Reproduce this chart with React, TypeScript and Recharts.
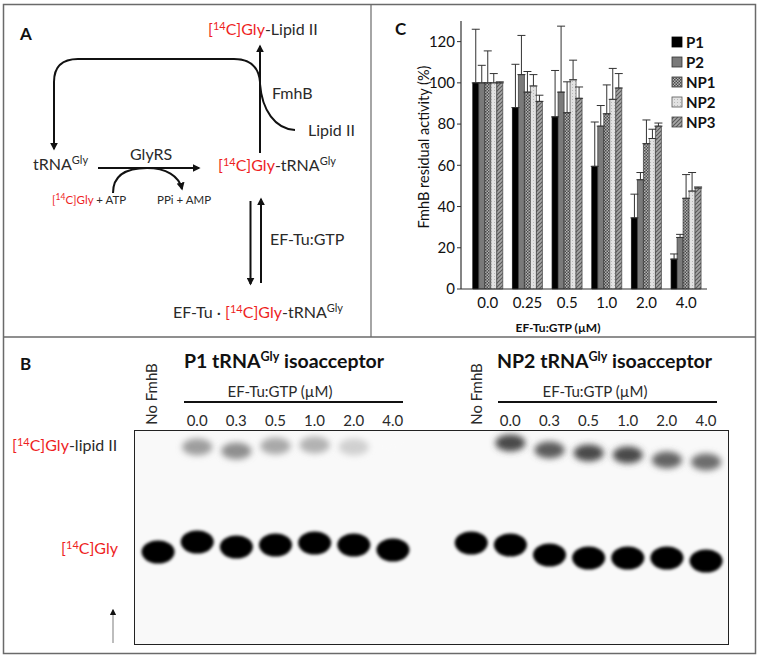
import React from "react";
import {
  Bar,
  BarChart,
  ErrorBar,
  Scatter,
  ScatterChart,
  XAxis,
  YAxis,
} from "recharts";

// panel C: FmhB residual activity (%) vs EF-Tu:GTP (µM)
const doses = ["0.0", "0.25", "0.5", "1.0", "2.0", "4.0"];
const yTicks = [0, 20, 40, 60, 80, 100, 120];
const p1 = [100, 88, 83.5, 59.5, 34.5, 14.5];
const p1Err = [26, 21, 22.5, 21.5, 11.5, 2.5];
const p2 = [100, 104, 95.5, 79, 53, 25];
const p2Err = [8.5, 19, 32, 10, 3.5, 1.5];
const np1 = [100, 95.5, 85.5, 85, 70.5, 44];
const np1Err = [15.5, 10, 15, 14, 11.5, 11.5];
const np2 = [100, 98.5, 101.5, 92, 73, 47.5];
const np2Err = [4.5, 5.5, 9.5, 15, 4.5, 9];
const np3 = [100, 91, 92.5, 97.5, 79, 49];
const np3Err = [0.5, 3, 5.5, 7, 1.5, 0.5];

// panel B: gel lanes (lane slot, migration from well, band darkness 0..1)
const laneLabels = ["0.0", "0.3", "0.5", "1.0", "2.0", "4.0"];
const lipidLanes = [1, 2, 3, 4, 5, 6, 9, 10, 11, 12, 13, 14];
const lipidDist = [16, 20, 15, 14, 16, 15, 12, 19, 22, 24, 29, 31];
const lipidDark = [0.45, 0.52, 0.4, 0.36, 0.22, 0.03, 0.85, 0.76, 0.85, 0.84, 0.72, 0.68];
const glyLanes = [0, 1, 2, 3, 4, 5, 6, 8, 9, 10, 11, 12, 13, 14];
const glyDist = [121, 111, 116, 114, 112, 114, 119, 112, 114, 124, 127, 127, 127, 130];

const series = [
  { key: "P1", values: p1, err: p1Err, fill: "#000", stroke: "#000" },
  { key: "P2", values: p2, err: p2Err, fill: "#7a7a7a", stroke: "#333" },
  { key: "NP1", values: np1, err: np1Err, fill: "url(#patNP1)", stroke: "#333" },
  { key: "NP2", values: np2, err: np2Err, fill: "url(#patNP2)", stroke: "#555" },
  { key: "NP3", values: np3, err: np3Err, fill: "url(#patNP3)", stroke: "#444" },
];

const chartData = doses.map((dose, i) => {
  const row: Record<string, unknown> = { dose };
  series.forEach((s) => {
    row[s.key] = s.values[i];
    row[s.key + "e"] = [0, s.err[i]];
  });
  return row;
});

const lipidData = lipidLanes.map((lane, i) => ({ lane, dist: lipidDist[i], dark: lipidDark[i] }));
const glyData = glyLanes.map((lane, i) => ({ lane, dist: glyDist[i] }));

const FONT = "Lato, 'Open Sans', sans-serif";
const RED = "#ee1f1f";
const INK = "#2a2a2a";

function C14({ dy = 5, size = 11 }: { dy?: number; size?: number }) {
  return (
    <>
      <tspan fill={RED}>[</tspan>
      <tspan fill={RED} dy={-dy} fontSize={size}>14</tspan>
      <tspan fill={RED} dy={dy}>C]Gly</tspan>
    </>
  );
}

function Gly({ dy = 6 }: { dy?: number }) {
  return (
    <>
      <tspan dy={-dy} fontSize={11}>Gly</tspan>
      <tspan dy={dy}> </tspan>
    </>
  );
}

function LegendBox() {
  return (
    <div style={{ position: "absolute", left: 291, top: 32, fontFamily: FONT, fontWeight: 700, fontSize: 15, color: "#111" }}>
      {series.map((s) => (
        <div key={s.key} style={{ display: "flex", alignItems: "center", height: 20 }}>
          <svg width={13} height={12} style={{ marginRight: 2 }}>
            <rect x={1} y={1} width={10} height={10} fill={s.fill} stroke={s.stroke} strokeWidth={0.8} />
          </svg>
          <span>{s.key}</span>
        </div>
      ))}
    </div>
  );
}

function LipidBand(props: any) {
  const { cx, cy, payload } = props;
  const g = Math.round(255 - 215 * payload.dark);
  const col = `rgb(${g},${g},${g})`;
  return (
    <g filter="url(#blurSoft)">
      <ellipse cx={cx} cy={cy} rx={15} ry={8.5} fill={col} />
    </g>
  );
}

function GlyBand(props: any) {
  const { cx, cy } = props;
  return (
    <g filter="url(#blurHard)">
      <ellipse cx={cx} cy={cy} rx={16.5} ry={11.5} fill="#050505" />
    </g>
  );
}

function ResidualChart() {
  return (
    <BarChart
      width={380}
      height={336}
      data={chartData}
      margin={{ top: 21, right: 53, bottom: 17, left: 31 }}
      barCategoryGap="12%"
      barGap={0}
    >
      <defs>
        <pattern id="patNP1" width="3" height="3" patternUnits="userSpaceOnUse">
          <rect width="3" height="3" fill="#b4b4b4" />
          <rect width="1.5" height="1.5" fill="#4a4a4a" />
          <rect x="1.5" y="1.5" width="1.5" height="1.5" fill="#4a4a4a" />
        </pattern>
        <pattern id="patNP2" width="3" height="3" patternUnits="userSpaceOnUse">
          <rect width="3" height="3" fill="#e2e2e2" />
          <rect width="1" height="1" fill="#b8b8b8" />
        </pattern>
        <pattern id="patNP3" width="4" height="4" patternUnits="userSpaceOnUse">
          <rect width="4" height="4" fill="#a8a8a8" />
          <path d="M0,4 L4,0 M-1,1 L1,-1 M3,5 L5,3" stroke="#5a5a5a" strokeWidth="1.2" />
        </pattern>
      </defs>
      <XAxis
        dataKey="dose"
        tick={{ fontSize: 15, fill: "#111", fontFamily: FONT }}
        tickLine={false}
        axisLine={{ stroke: "#333", strokeWidth: 1.2 }}
        padding={{ left: 7, right: 1 }}
        height={30}
        interval={0}
        label={{
          content: () => (
            <text x={178} y={332} textAnchor="middle" fontFamily={FONT} fontWeight={700} fontSize={12} fill="#111">
              EF-Tu:GTP (µM)
            </text>
          ),
        }}
      />
      <YAxis
        domain={[0, 130]}
        ticks={yTicks}
        width={50}
        tick={{ fontSize: 15, fill: "#111", fontFamily: FONT }}
        tickSize={4}
        tickLine={{ stroke: "#333" }}
        axisLine={{ stroke: "#333", strokeWidth: 1.2 }}
        label={{
          content: () => (
            <text
              x={43}
              y={147}
              transform="rotate(-90 43 147)"
              textAnchor="middle"
              dominantBaseline="central"
              fontFamily={FONT}
              fontSize={14.5}
              fill="#111"
            >
              FmhB residual activity (%)
            </text>
          ),
        }}
      />
      {series.map((s) => (
        <Bar
          key={s.key}
          dataKey={s.key}
          name={s.key}
          fill={s.fill}
          stroke={s.stroke}
          strokeWidth={0.7}
          isAnimationActive={false}
        >
          <ErrorBar dataKey={s.key + "e"} width={4} stroke="#333" strokeWidth={1} direction="y" />
        </Bar>
      ))}
    </BarChart>
  );
}

function GelChart() {
  return (
    <ScatterChart width={593} height={213} margin={{ top: 0, right: 0, bottom: 0, left: 0 }}>
      <defs>
        <filter id="blurSoft" x="-50%" y="-80%" width="200%" height="260%">
          <feGaussianBlur stdDeviation="3" />
        </filter>
        <filter id="blurHard" x="-30%" y="-50%" width="160%" height="200%">
          <feGaussianBlur stdDeviation="1.6" />
        </filter>
      </defs>
      <XAxis type="number" dataKey="lane" domain={[-0.59, 14.56]} hide allowDataOverflow />
      <YAxis type="number" dataKey="dist" domain={[0, 213]} reversed hide allowDataOverflow />
      <Scatter data={lipidData} shape={LipidBand} isAnimationActive={false} />
      <Scatter data={glyData} shape={GlyBand} isAnimationActive={false} />
    </ScatterChart>
  );
}

function laneX(slot: number) {
  // lane centre in page px, only for lane labels above the gel
  return 158 + slot * 39.14;
}

export default function App() {
  return (
    <div style={{ position: "absolute", left: 0, top: 0, width: 760, height: 658, background: "#fff", fontFamily: FONT }}>
      <svg width={760} height={658} style={{ position: "absolute", left: 0, top: 0 }} fontFamily={FONT}>
        <defs>
          <marker id="ah" viewBox="0 0 10 10" refX="8" refY="5" markerWidth="4" markerHeight="4" orient="auto-start-reverse">
            <path d="M0,0 L10,5 L0,10 z" fill="#111" />
          </marker>
          <marker id="ahSmall" viewBox="0 0 10 10" refX="8" refY="5" markerWidth="5" markerHeight="5" orient="auto">
            <path d="M0,0 L10,5 L0,10 z" fill="#111" />
          </marker>
        </defs>
        {/* frame */}
        <rect x={3.5} y={4.5} width={752} height={649} fill="none" stroke="#6a6a6a" strokeWidth={1.5} />
        <line x1={371} y1={4.5} x2={371} y2={337} stroke="#6a6a6a" strokeWidth={1.2} />
        <line x1={3.5} y1={337} x2={755.5} y2={337} stroke="#6a6a6a" strokeWidth={1.5} />

        {/* panel A */}
        <text x={20} y={40} fontSize={17} fontWeight={700} fill="#111">A</text>
        <g fill="none" stroke="#111" strokeWidth={2}>
          <path d="M54,146 L54,82 Q54,59 78,59 L234,59 Q258,59 260,82" />
          <line x1={54} y1={100} x2={54} y2={149} markerEnd="url(#ah)" />
          <line x1={260} y1={153} x2={260} y2={46} markerEnd="url(#ah)" />
          <path d="M260,84 C262,110 275,129 295,130" />
          <line x1={98} y1={168} x2={199} y2={168} markerEnd="url(#ah)" />
          <path d="M113,193 C113,174 128,168 147,168 C166,168 179,176 182,189" markerEnd="url(#ah)" />
          <line x1={250.5} y1={201} x2={250.5} y2={284} markerEnd="url(#ah)" />
          <line x1={261} y1={283} x2={261} y2={199} markerEnd="url(#ah)" />
        </g>
        <g fontSize={16} fill={INK}>
          <text x={208} y={35}>
            <C14 />
            <tspan fill={INK}>-Lipid II</tspan>
          </text>
          <text x={272} y={99}>FmhB</text>
          <text x={308} y={136}>Lipid II</text>
          <text x={33} y={170}>
            tRNA
            <Gly />
          </text>
          <text x={130} y={160}>GlyRS</text>
          <text x={218} y={171}>
            <C14 />
            <tspan fill={INK}>-tRNA</tspan>
            <Gly />
          </text>
          <text x={270} y={245}>EF-Tu:GTP</text>
          <text x={173} y={318}>
            EF-Tu · <C14 />
            <tspan fill={INK}>-tRNA</tspan>
            <Gly />
          </text>
        </g>
        <g fontSize={11.5} fill={INK}>
          <text x={52} y={204}>
            <C14 dy={4} size={8.5} />
            <tspan fill={INK}> + ATP</tspan>
          </text>
          <text x={157} y={204}>PPi + AMP</text>
        </g>

        {/* panel B */}
        <text x={20} y={370} fontSize={17} fontWeight={700} fill="#111">B</text>
        <text x={184} y={368} fontSize={19.5} fontWeight={700} fill="#111">
          P1 tRNA
          <tspan dy={-7} fontSize={12.5}>Gly</tspan>
          <tspan dy={7}> isoacceptor</tspan>
        </text>
        <text x={497} y={368} fontSize={19.5} fontWeight={700} fill="#111">
          NP2 tRNA
          <tspan dy={-7} fontSize={12.5}>Gly</tspan>
          <tspan dy={7}> isoacceptor</tspan>
        </text>
        <g fontSize={15} fill={INK}>
          <text x={280} y={397} textAnchor="middle">EF-Tu:GTP (µM)</text>
          <text x={595} y={397} textAnchor="middle">EF-Tu:GTP (µM)</text>
          <text x={157} y={394} transform="rotate(-90 157 394)" textAnchor="middle">No FmhB</text>
          <text x={482} y={394} transform="rotate(-90 482 394)" textAnchor="middle">No FmhB</text>
          {laneLabels.map((l, i) => (
            <text key={"a" + l} x={laneX(i + 1)} y={426} textAnchor="middle">{l}</text>
          ))}
          {laneLabels.map((l, i) => (
            <text key={"b" + l} x={laneX(i + 9)} y={426} textAnchor="middle">{l}</text>
          ))}
        </g>
        <line x1={184} y1={402} x2={403} y2={402} stroke="#111" strokeWidth={2} />
        <line x1={498} y1={402} x2={717} y2={402} stroke="#111" strokeWidth={2} />
        <g fontSize={16} fill={INK}>
          <text x={12} y={451}>
            <C14 />
            <tspan fill={INK}>-lipid II</tspan>
          </text>
          <text x={118} y={554} textAnchor="end">
            <C14 />
          </text>
        </g>
        <line x1={113} y1={643} x2={113} y2={610} stroke="#9a9a9a" strokeWidth={1.3} markerEnd="url(#ahSmall)" />
      </svg>

      <div style={{ position: "absolute", left: 380, top: 0 }}>
        <ResidualChart />
        <LegendBox />
        <div style={{ position: "absolute", left: 15, top: 18, fontSize: 17, fontWeight: 700, color: "#111", fontFamily: FONT }}>C</div>
      </div>

      <div
        style={{
          position: "absolute",
          left: 134,
          top: 430,
          width: 593,
          height: 213,
          border: "1.5px solid #222",
          background: "#f9f9f9",
        }}
      >
        <GelChart />
      </div>
    </div>
  );
}
